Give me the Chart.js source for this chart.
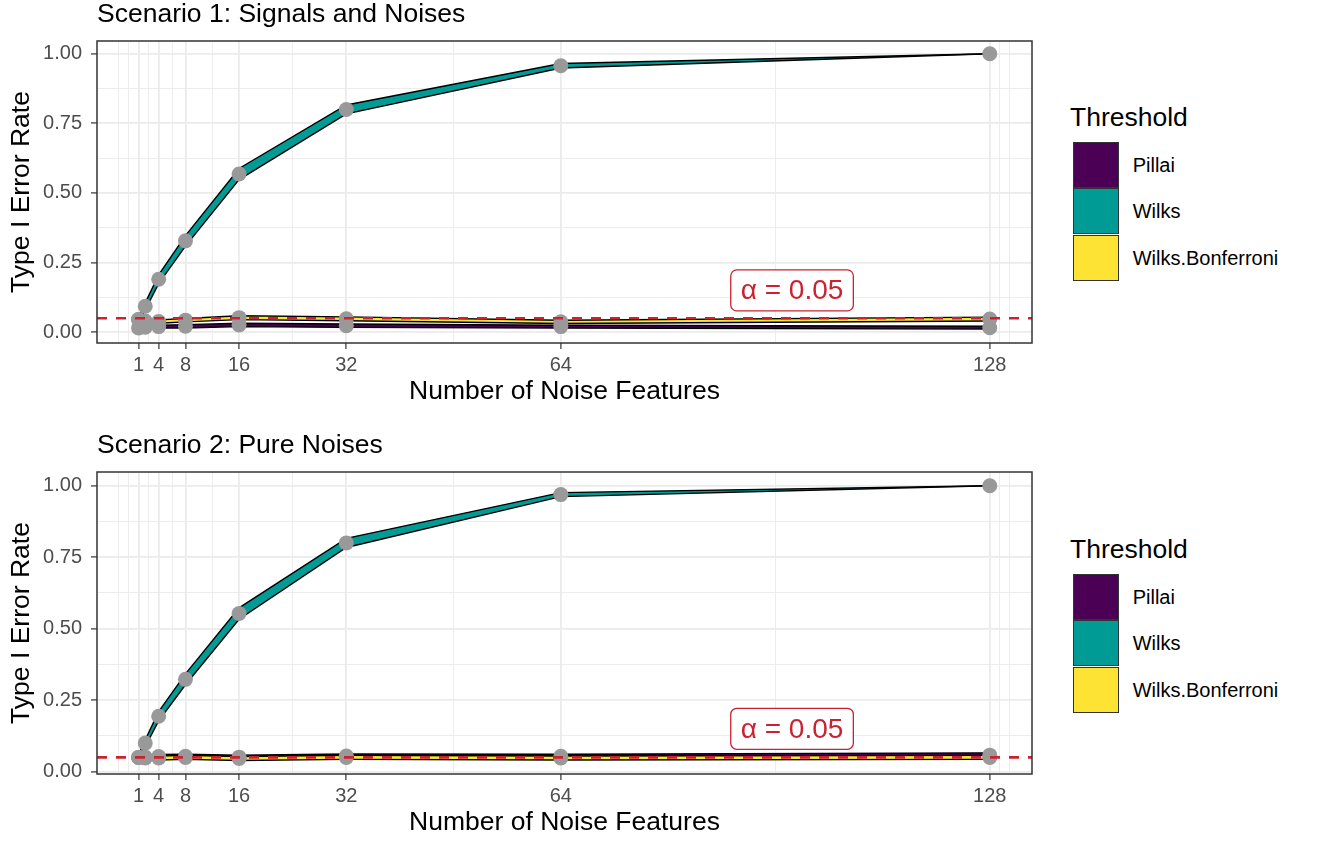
<!DOCTYPE html>
<html>
<head>
<meta charset="utf-8">
<script src="https://cdn.jsdelivr.net/npm/chart.js@4.4.1/dist/chart.umd.min.js"></script>
<style>
  body { margin: 0; width: 1320px; height: 843px; overflow: hidden; background: #fff; position: relative;
         font-family: 'Liberation Sans', Arial, sans-serif; }
  .panel { position: absolute; left: 0; }
  .legend { position: absolute; left: 1070px; width: 250px; }
  .legend .lt { position: absolute; left: 0; top: 0; font-size: 26.5px; line-height: 27px; color: #000; white-space: nowrap; }
  .legend .key { position: absolute; left: 2.7px; width: 46px; height: 46.4px; box-sizing: border-box; border: 1px solid #333; }
  .legend .lab { position: absolute; left: 62.7px; font-size: 20px; line-height: 24px; color: #000; white-space: nowrap; }
</style>
</head>
<body>
<div class="panel" style="top:0px"><canvas id="p1" width="1040" height="421"></canvas></div>
<div class="panel" style="top:431px"><canvas id="p2" width="1040" height="421"></canvas></div>
<div class="legend" id="lg1" style="top:104px"></div>
<div class="legend" id="lg2" style="top:536px"></div>
<script>
// x values and axis breaks
const NOISE = [1, 2, 4, 8, 16, 32, 64, 128];
const X_BREAKS = [1, 4, 8, 16, 32, 64, 128];
const X_MINOR = [-2, -0.5, 2.5, 6, 12, 24, 48, 96, 129.5, 131];
const Y_BREAKS = [0, 0.25, 0.5, 0.75, 1];
const Y_MINOR = [0.125, 0.375, 0.625, 0.875];

const SERIES = ['Pillai', 'Wilks', 'Wilks.Bonferroni'];
const COLORS = ['#4B0055', '#009B95', '#FDE333'];
const ALPHA = 0.05;
const LABEL_X = 98.5, LABEL_Y = 0.15;
const RED = '#CB2131';

// Scenario 1: signals and noises
const s1Pillai   = [0.015, 0.018, 0.020, 0.021, 0.026, 0.023, 0.020, 0.016];
const s1PillaiLo = [0.010, 0.013, 0.015, 0.015, 0.020, 0.017, 0.015, 0.011];
const s1PillaiHi = [0.020, 0.023, 0.025, 0.027, 0.032, 0.029, 0.025, 0.021];
const s1Wilks    = [0.045, 0.093, 0.190, 0.328, 0.568, 0.800, 0.957, 1.000];
const s1WilksLo  = [0.036, 0.081, 0.174, 0.309, 0.548, 0.784, 0.949, 1.000];
const s1WilksHi  = [0.054, 0.105, 0.206, 0.347, 0.588, 0.816, 0.965, 1.000];
const s1Bonf     = [0.045, 0.040, 0.038, 0.043, 0.052, 0.048, 0.037, 0.047];
const s1BonfLo   = [0.038, 0.034, 0.032, 0.037, 0.045, 0.041, 0.031, 0.040];
const s1BonfHi   = [0.052, 0.046, 0.044, 0.049, 0.059, 0.055, 0.043, 0.054];

// Scenario 2: pure noises
const s2Pillai   = [0.050, 0.051, 0.053, 0.054, 0.051, 0.055, 0.054, 0.058];
const s2PillaiLo = [0.043, 0.044, 0.046, 0.047, 0.044, 0.048, 0.047, 0.051];
const s2PillaiHi = [0.057, 0.058, 0.060, 0.061, 0.058, 0.062, 0.061, 0.066];
const s2Wilks    = [0.050, 0.100, 0.194, 0.323, 0.553, 0.800, 0.969, 1.000];
const s2WilksLo  = [0.041, 0.088, 0.178, 0.304, 0.533, 0.784, 0.962, 1.000];
const s2WilksHi  = [0.059, 0.112, 0.210, 0.342, 0.573, 0.816, 0.976, 1.000];
const s2Bonf     = [0.050, 0.048, 0.048, 0.050, 0.046, 0.050, 0.048, 0.050];
const s2BonfLo   = [0.043, 0.041, 0.041, 0.043, 0.039, 0.043, 0.041, 0.043];
const s2BonfHi   = [0.057, 0.055, 0.055, 0.057, 0.053, 0.057, 0.055, 0.057];

const FONT = "'Liberation Sans', Arial, sans-serif";

const decor = {
  id: 'decor',
  afterDatasetsDraw(chart, args, opts) {
    const { ctx, chartArea: a, scales: { x, y } } = chart;
    ctx.save();
    ctx.beginPath();
    ctx.rect(a.left, a.top, a.width, a.height);
    ctx.clip();
    // dashed alpha line
    let yy = y.getPixelForValue(ALPHA);
    ctx.setLineDash([10, 9]);
    ctx.strokeStyle = RED;
    ctx.lineWidth = 2.7;
    ctx.beginPath();
    ctx.moveTo(a.left, yy);
    ctx.lineTo(a.right, yy);
    ctx.stroke();
    ctx.setLineDash([]);
    // label
    let cx = x.getPixelForValue(LABEL_X), cy = y.getPixelForValue(LABEL_Y);
    ctx.font = '28px ' + FONT;
    let txt = 'α = 0.05';
    let w = ctx.measureText(txt).width + 20, h = 41;
    ctx.beginPath();
    ctx.roundRect(cx - w / 2, cy - h / 2, w, h, 6);
    ctx.fillStyle = '#fff';
    ctx.fill();
    ctx.lineWidth = 1.3;
    ctx.strokeStyle = RED;
    ctx.stroke();
    ctx.fillStyle = RED;
    ctx.textAlign = 'center';
    ctx.textBaseline = 'middle';
    ctx.fillText(txt, cx, cy + 1);
    ctx.restore();
  },
  afterDraw(chart, args, opts) {
    const { ctx, chartArea: a } = chart;
    ctx.save();
    ctx.strokeStyle = '#333';
    ctx.lineWidth = 1.5;
    ctx.strokeRect(a.left, a.top, a.width, a.height);
    ctx.font = '26.5px ' + FONT;
    ctx.fillStyle = '#000';
    ctx.textAlign = 'left';
    ctx.textBaseline = 'alphabetic';
    ctx.fillText(opts.title, a.left, 22);
    ctx.restore();
  }
};

function makePanel(id, title, yMin, yMax, means, los, his) {
  let datasets = [];
  SERIES.forEach((name, i) => {
    let base = (3 - i) * 10;
    datasets.push({
      label: name + ' lower',
      data: NOISE.map((v, j) => ({ x: v, y: los[i][j] })),
      borderColor: '#000', borderWidth: 1.4, pointRadius: 0, fill: false, order: base
    });
    datasets.push({
      label: name,
      data: NOISE.map((v, j) => ({ x: v, y: his[i][j] })),
      borderColor: '#000', borderWidth: 1.4, backgroundColor: COLORS[i],
      pointRadius: 0, fill: '-1', order: base + 1
    });
  });
  datasets.push({
    label: 'points',
    data: means.flatMap(m => NOISE.map((v, j) => ({ x: v, y: m[j] }))),
    showLine: false, pointRadius: 7.5, pointBackgroundColor: '#999999',
    pointBorderWidth: 0, order: 1
  });

  new Chart(document.getElementById(id), {
    type: 'line',
    data: { datasets },
    plugins: [decor],
    options: {
      responsive: false,
      animation: false,
      events: [],
      layout: { padding: { top: 41, right: 8, left: 0, bottom: 0 } },
      plugins: {
        legend: { display: false },
        tooltip: { enabled: false },
        decor: { title }
      },
      scales: {
        x: {
          type: 'linear', min: -5.2, max: 134.3,
          afterBuildTicks: s => { s.ticks = X_BREAKS.concat(X_MINOR).map(v => ({ value: v })); },
          afterFit: s => { s.height = 78; },
          border: { display: false },
          grid: {
            color: '#ebebeb',
            lineWidth: c => X_BREAKS.includes(c.tick.value) ? 1.8 : 0.9,
            tickColor: c => X_BREAKS.includes(c.tick.value) ? '#333' : 'rgba(0,0,0,0)',
            tickLength: 6, tickWidth: 1.2
          },
          ticks: {
            autoSkip: false, maxRotation: 0, padding: 4, color: '#4d4d4d',
            font: { family: FONT, size: 20 },
            callback: v => X_BREAKS.includes(v) ? String(v) : ''
          },
          title: {
            display: true, text: 'Number of Noise Features', color: '#000',
            font: { family: FONT, size: 26.5 }, padding: { top: 0, bottom: 13 }
          }
        },
        y: {
          min: yMin, max: yMax,
          afterBuildTicks: s => { s.ticks = Y_BREAKS.concat(Y_MINOR).map(v => ({ value: v })); },
          afterFit: s => { s.width = 97; },
          border: { display: false },
          grid: {
            color: '#ebebeb',
            lineWidth: c => Y_BREAKS.includes(c.tick.value) ? 1.8 : 0.9,
            tickColor: c => Y_BREAKS.includes(c.tick.value) ? '#333' : 'rgba(0,0,0,0)',
            tickLength: 6, tickWidth: 1.2
          },
          ticks: {
            autoSkip: false, padding: 9, color: '#4d4d4d',
            font: { family: FONT, size: 20 },
            callback: v => Y_BREAKS.includes(v) ? v.toFixed(2) : ''
          },
          title: {
            display: true, text: 'Type I Error Rate', color: '#000',
            font: { family: FONT, size: 26.5 }, padding: { top: 6, bottom: 0 }
          }
        }
      }
    }
  });
}

function makeLegend(id) {
  const el = document.getElementById(id);
  let html = '<div class="lt">Threshold</div>';
  SERIES.forEach((name, i) => {
    let top = 37.7 + i * 46.4;
    html += `<div class="key" style="top:${top}px;background:${COLORS[i]}"></div>`;
    html += `<div class="lab" style="top:${top + 11}px">${name}</div>`;
  });
  el.innerHTML = html;
}

makePanel('p1', 'Scenario 1: Signals and Noises', -0.039, 1.046,
  [s1Pillai, s1Wilks, s1Bonf], [s1PillaiLo, s1WilksLo, s1BonfLo], [s1PillaiHi, s1WilksHi, s1BonfHi]);
makePanel('p2', 'Scenario 2: Pure Noises', -0.008, 1.048,
  [s2Pillai, s2Wilks, s2Bonf], [s2PillaiLo, s2WilksLo, s2BonfLo], [s2PillaiHi, s2WilksHi, s2BonfHi]);
makeLegend('lg1');
makeLegend('lg2');
</script>
</body>
</html>
